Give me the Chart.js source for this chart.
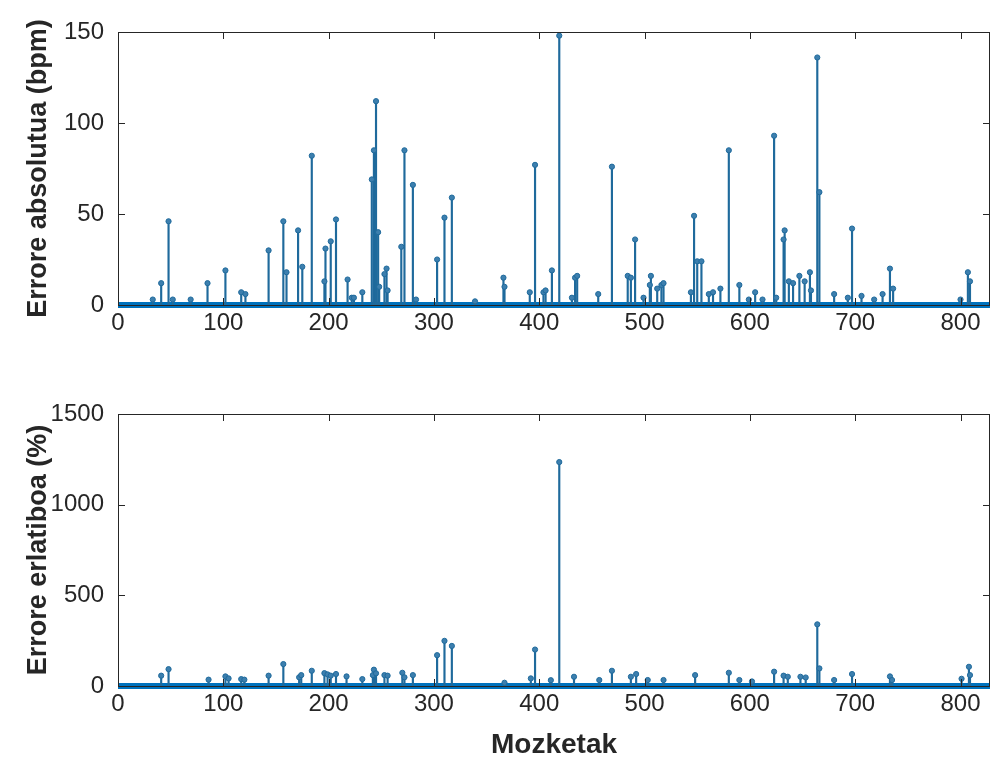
<!DOCTYPE html>
<html>
<head>
<meta charset="utf-8">
<script src="https://cdn.jsdelivr.net/npm/chart.js@4.4.1/dist/chart.umd.min.js"></script>
<style>
  body { margin: 0; background: #fff; }
  canvas { position: absolute; left: 0; }
  #absChart { top: 0; }
  #relChart { top: 380px; }
</style>
</head>
<body>
<canvas id="absChart" width="995" height="345"></canvas>
<canvas id="relChart" width="995" height="387"></canvas>
<script>
// mozketa index and absolute error (bpm)
const absIdx = [33, 41, 48, 52, 69, 85, 102, 117, 121, 143, 157, 160, 171, 175, 184, 196, 197, 202, 207, 218,
  222, 224, 232, 241, 243, 245, 247, 248, 253, 255, 256, 269, 272, 280, 283, 303, 310, 317, 339, 366,
  367, 391, 396, 404, 406, 412, 419, 431, 434, 436, 456, 469, 484, 487, 491, 499, 505, 506, 512, 516,
  518, 544, 547, 550, 554, 561, 565, 572, 580, 590, 599, 605, 612, 623, 625, 632, 633, 637, 641, 647,
  652, 657, 658, 664, 666, 680, 693, 697, 706, 718, 726, 733, 736, 800, 807, 809];
const absVal = [3, 12, 46, 3, 3, 12, 19, 7, 6, 30, 46, 18, 41, 21, 82, 13, 31, 35, 47, 14,
  4, 4, 7, 69, 85, 112, 40, 10, 17, 20, 8, 32, 85, 66, 3, 25, 48, 59, 2, 15,
  10, 7, 77, 7, 8, 19, 148, 4, 15, 16, 6, 76, 16, 15, 36, 4, 11, 16, 9, 11,
  12, 7, 49, 24, 24, 6, 7, 9, 85, 11, 3, 7, 3, 93, 4, 36, 41, 13, 12, 16,
  13, 18, 8, 136, 62, 6, 4, 42, 5, 3, 6, 20, 9, 3, 18, 13];

// mozketa index and relative error (%)
const relIdx = [41, 48, 86, 102, 105, 117, 120, 143, 157, 172, 174, 184, 196, 199, 202, 207, 217, 232, 242, 243,
  245, 253, 256, 270, 272, 280, 303, 310, 317, 367, 392, 396, 411, 419, 433, 457, 469, 487, 492, 503,
  518, 548, 580, 590, 602, 623, 632, 636, 648, 653, 664, 666, 680, 697, 733, 735, 801, 808, 809];
const relVal = [57, 93, 35, 53, 42, 38, 35, 57, 121, 48, 60, 84, 71, 64, 57, 66, 53, 38, 60, 90,
  70, 60, 57, 73, 48, 60, 170, 249, 221, 18, 42, 201, 32, 1235, 51, 33, 84, 51, 66, 33,
  33, 60, 73, 33, 25, 79, 57, 51, 51, 47, 340, 97, 33, 66, 53, 33, 40, 106, 60];

const xMax = 828;
const xTicks = [0, 100, 200, 300, 400, 500, 600, 700, 800];

const stemColor = '#1f6a9c';
const baseColor = '#0072BD';
const axisColor = '#262626';
const fontFamily = "'Liberation Sans', Arial, Helvetica, sans-serif";

// MATLAB-like box with inward ticks
const matlabBox = {
  id: 'matlabBox',
  afterDraw(chart) {
    const {ctx, chartArea: a, scales} = chart;
    ctx.save();
    ctx.strokeStyle = axisColor;
    ctx.lineWidth = 1;
    ctx.strokeRect(Math.round(a.left) + 0.5, Math.round(a.top) + 0.5,
      Math.round(a.right - a.left) - 1, Math.round(a.bottom - a.top));
    ctx.beginPath();
    scales.x.ticks.forEach(t => {
      const px = Math.round(scales.x.getPixelForValue(t.value)) + 0.5;
      ctx.moveTo(px, a.bottom); ctx.lineTo(px, a.bottom - 7);
      ctx.moveTo(px, a.top); ctx.lineTo(px, a.top + 7);
    });
    scales.y.ticks.forEach(t => {
      const py = Math.round(scales.y.getPixelForValue(t.value)) + 0.5;
      ctx.moveTo(a.left, py); ctx.lineTo(a.left + 7, py);
      ctx.moveTo(a.right, py); ctx.lineTo(a.right - 7, py);
    });
    ctx.stroke();
    ctx.restore();
  }
};

function stemChart(id, idx, vals, yMax, yStep, yTitle, xTitle, padTop, xHeight) {
  const pts = idx.map((x, i) => ({x: x, y: vals[i]}));
  return new Chart(document.getElementById(id), {
    type: 'scatter',
    data: {
      datasets: [
        {
          type: 'line',
          data: [{x: 0, y: 0}, {x: xMax, y: 0}],
          borderColor: baseColor,
          borderWidth: 6,
          pointRadius: 0,
          clip: {left: 0, right: 0, top: 0, bottom: 4},
          order: 3
        },
        {
          type: 'bar',
          data: pts,
          backgroundColor: stemColor,
          borderWidth: 0,
          barThickness: 1.5,
          order: 2
        },
        {
          type: 'scatter',
          data: pts,
          pointStyle: 'circle',
          pointRadius: 2.6,
          borderWidth: 1,
          borderColor: stemColor,
          backgroundColor: '#3d7fae',
          order: 1
        }
      ]
    },
    options: {
      responsive: false,
      animation: false,
      devicePixelRatio: 1,
      layout: {padding: {top: padTop, right: 2, left: 0, bottom: 0}},
      plugins: {legend: {display: false}, tooltip: {enabled: false}},
      scales: {
        x: {
          type: 'linear',
          min: 0,
          max: xMax,
          offset: false,
          afterBuildTicks: s => { s.ticks = xTicks.map(v => ({value: v})); },
          afterFit: s => { s.height = xHeight; },
          grid: {display: false, drawTicks: false},
          border: {display: false},
          ticks: {color: axisColor, padding: 4, font: {family: fontFamily, size: 24},
            callback: v => String(v)},
          title: xTitle ? {display: true, text: xTitle, color: axisColor, padding: {top: 0, bottom: 5},
            font: {family: fontFamily, size: 28, weight: 'bold'}} : {display: false}
        },
        y: {
          min: 0,
          max: yMax,
          ticks: {stepSize: yStep, color: axisColor, padding: 14, font: {family: fontFamily, size: 24},
            callback: v => String(v)},
          afterFit: s => { s.width = 118; },
          grid: {display: false, drawTicks: false},
          border: {display: false},
          title: {display: true, text: yTitle, color: axisColor, padding: {top: 22, bottom: 0},
            font: {family: fontFamily, size: 27, weight: 'bold'}}
        }
      }
    },
    plugins: [matlabBox]
  });
}

stemChart('absChart', absIdx, absVal, 150, 50, 'Errore absolutua (bpm)', null, 32, 40);
stemChart('relChart', relIdx, relVal, 1500, 500, 'Errore erlatiboa (%)', 'Mozketak', 34, 81);
</script>
</body>
</html>
